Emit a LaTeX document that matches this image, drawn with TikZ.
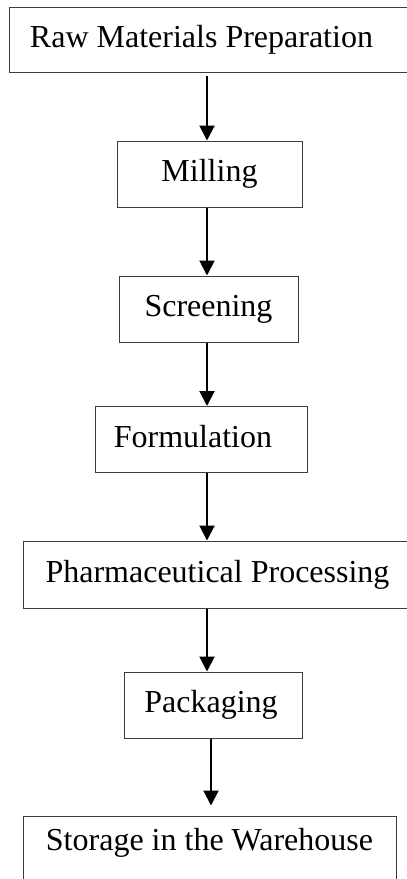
\documentclass[tikz,border=0pt]{standalone}
\usepackage{fontspec}
\setmainfont{Liberation Serif}
\usetikzlibrary{arrows.meta}
\definecolor{boxgray}{RGB}{60,60,60}

\begin{document}
\begin{tikzpicture}[x=1pt,y=-1pt,
    stagebox/.style={draw=boxgray, line width=1pt, inner sep=0pt, minimum height=66pt,
        text height=22pt, text depth=7pt, font=\fontsize{32}{38}\selectfont},
    flow/.style={line width=2pt, -{Triangle[length=15pt,width=15pt]}}]
    \useasboundingbox (0,0) rectangle (407,879);
    \clip (0,0) rectangle (407,879);

    % Process stages
    \node[stagebox, minimum width=403pt, minimum height=65pt] (raw) at (210.5,39.5) {Raw Materials Preparation\kern18pt};
    \node[stagebox, minimum width=185pt] (mill) at (209.5,174) {Milling};
    \node[stagebox, minimum width=179pt] (screen) at (208.5,309) {Screening};
    \node[stagebox, minimum width=212pt] (form) at (201,439.5) {Formulation\kern16pt};
    \node[stagebox, minimum width=389pt, minimum height=67pt] (pharm) at (217.5,574.5) {Pharmaceutical Processing};
    \node[stagebox, minimum width=178pt] (pack) at (213,705) {Packaging\kern4pt};
    \node[stagebox, minimum width=373pt] (store) at (209.5,849) {\raisebox{6.5pt}{Storage in the Warehouse}};

    % Arrow columns
    \coordinate (ax) at (207,0);
    \coordinate (bx) at (211,0);

    % Flow arrows
    \draw[flow, shorten <=3pt] (raw.south -| ax) -- (mill.north -| ax);
    \draw[flow] (mill.south -| ax) -- (screen.north -| ax);
    \draw[flow] (screen.south -| ax) -- (form.north -| ax);
    \draw[flow] (form.south -| ax) -- (pharm.north -| ax);
    \draw[flow] (pharm.south -| ax) -- (pack.north -| ax);
    \draw[flow, shorten >=10pt] (pack.south -| bx) -- (store.north -| bx);
\end{tikzpicture}
\end{document}
